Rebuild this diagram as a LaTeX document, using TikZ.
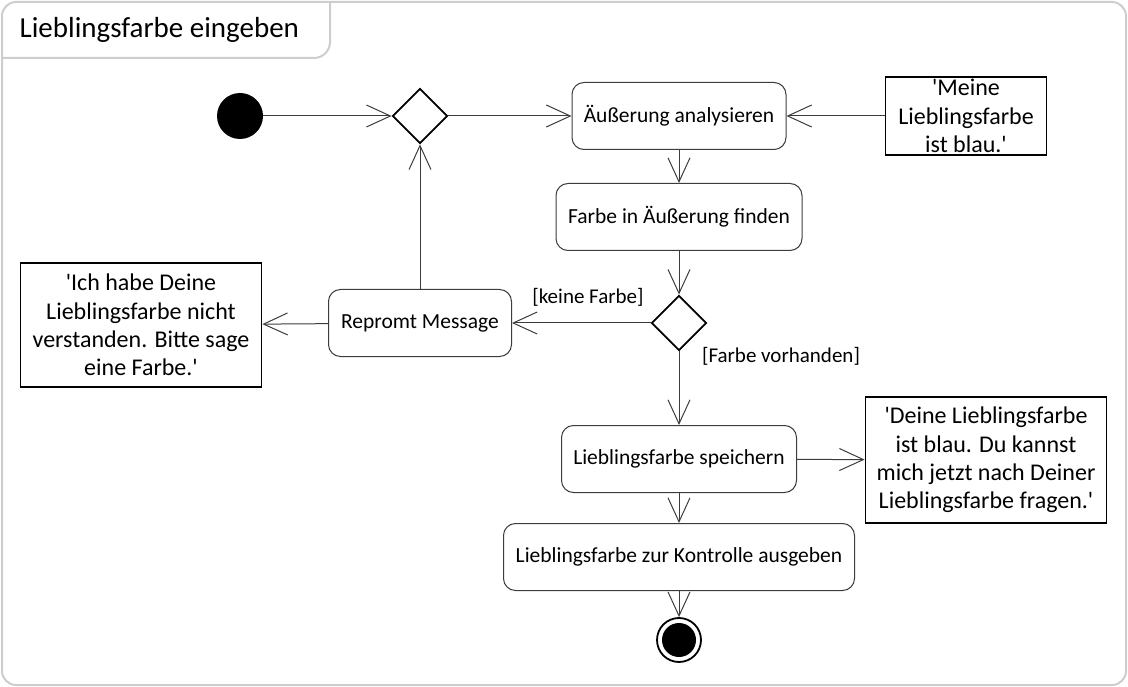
\documentclass[tikz,border=0pt]{standalone}
\usepackage{fontspec}
\setmainfont{Carlito}[Ligatures=TeXOff]
\usetikzlibrary{arrows.meta,shapes.geometric}
\definecolor{frame_gray}{RGB}{205,205,205}
\definecolor{line_gray}{RGB}{60,60,60}

\begin{document}
\begin{tikzpicture}[x=1pt,y=-1pt,semithick,>={Straight Barb[length=24pt,width=22pt]}]
    \tikzstyle{action}=[draw=line_gray, line width=1pt, rounded corners=12pt, minimum height=67pt, inner sep=0pt, font=\fontsize{21.5}{24}\selectfont]
    \tikzstyle{note}=[draw=black, line width=1.8pt, align=center, inner sep=0pt, font=\fontsize{24}{28.3}\selectfont]
    \tikzstyle{decision}=[draw=black, diamond, line width=1.8pt, minimum size=55pt, inner sep=0pt]
    \tikzstyle{guard}=[font=\fontsize{21}{24}\selectfont]
    \tikzstyle{flow}=[->, draw=line_gray, line width=1pt]

    \useasboundingbox (0,0) rectangle (1128,687);
    % frame and title tab
    \draw[frame_gray, line width=2pt, rounded corners=14pt] (2,2) rectangle (1126,685);
    \draw[frame_gray, line width=2pt, rounded corners=16pt] (2,58) -- (330,58) -- (330,2);
    \node[anchor=west, font=\fontsize{29}{32}\selectfont] (title) at (16,30) {Lieblingsfarbe eingeben};

    \node[circle, fill=black, minimum size=46pt, inner sep=0pt] (start) at (240,116) {};
    \node[decision] (merge) at (420,116) {};
    \node[action, minimum width=214pt] (analyse) at (679,116) {Äußerung analysieren};
    \node[note, minimum width=161pt, minimum height=78pt] (input) at (966,116) {'Meine\\Lieblingsfarbe\\ist blau.'};
    \node[action, minimum width=246pt] (find) at (679,217) {Farbe in Äußerung finden};
    \node[decision] (check) at (679,323) {};
    \node[action, minimum width=183pt] (reprompt) at (420,323) {Repromt Message};
    \node[note, minimum width=241pt, minimum height=124pt] (ask) at (141,325) {'Ich habe Deine\\Lieblingsfarbe nicht\\verstanden. Bitte sage\\eine Farbe.'};
    \node[guard] (nocolor) at (588,297) {[keine Farbe]};
    \node[guard] (color) at (781,356) {[Farbe vorhanden]};
    \node[action, minimum width=235pt] (store) at (679,459) {Lieblingsfarbe speichern};
    \node[note, minimum width=241pt, minimum height=126pt] (answer) at (986,460) {'Deine Lieblingsfarbe\\ist blau. Du kannst\\mich jetzt nach Deiner\\Lieblingsfarbe fragen.'};
    \node[action, minimum width=351pt] (output) at (679,557) {Lieblingsfarbe zur Kontrolle ausgeben};
    \node[circle, draw=black, line width=1.8pt, minimum size=44pt, inner sep=0pt] (end) at (679,640) {};
    \node[circle, fill=black, minimum size=34pt, inner sep=0pt] (endfill) at (end) {};

    \path
     (start) edge[flow] (merge)
     (merge) edge[flow] (analyse)
     (input) edge[flow] (analyse)
     (analyse) edge[flow] (find)
     (find) edge[flow] (check)
     (check) edge[flow] (reprompt)
     (reprompt) edge[flow] (ask)
     (reprompt) edge[flow] (merge)
     (check) edge[flow] (store)
     (store) edge[flow] (answer)
     (store) edge[flow] (output)
     (output) edge[flow] (end)
     ;
\end{tikzpicture}
\end{document}
